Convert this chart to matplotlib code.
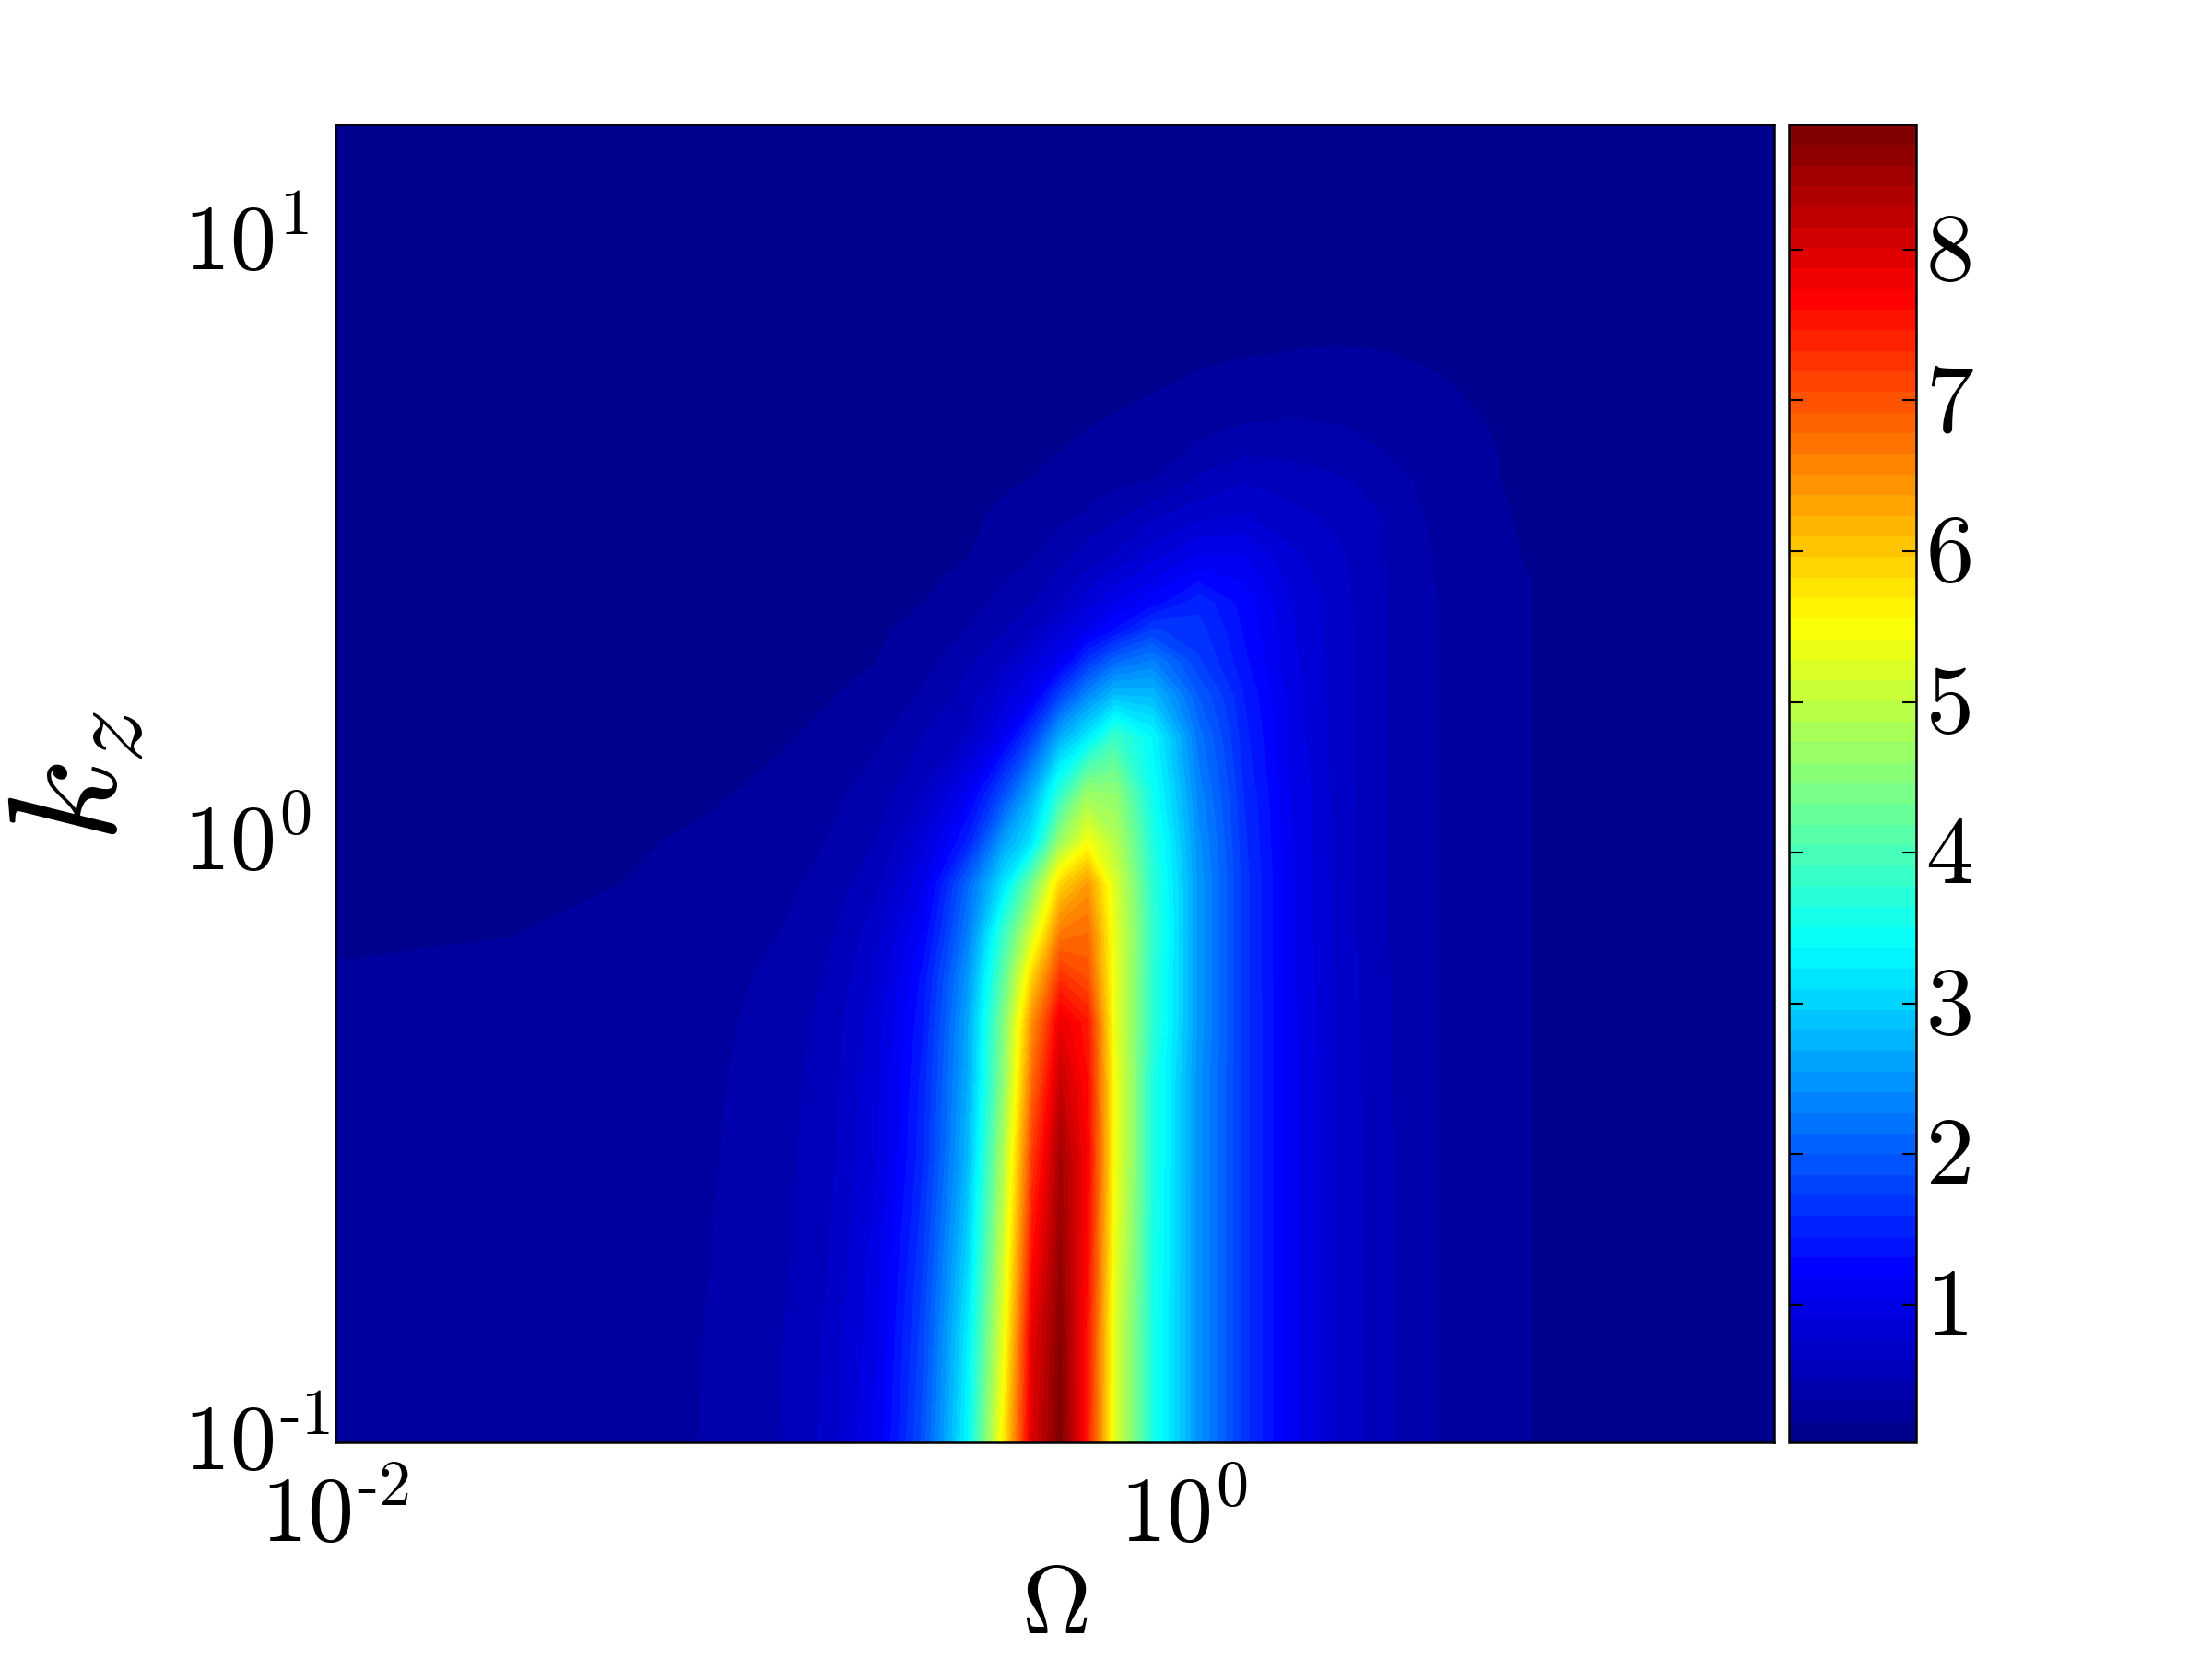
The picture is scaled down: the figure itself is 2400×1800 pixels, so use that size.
import numpy as np
import matplotlib
matplotlib.use('Agg')
import matplotlib.pyplot as plt
from matplotlib.colors import LinearSegmentedColormap
from matplotlib.transforms import ScaledTranslation

plt.rcParams['mathtext.fontset'] = 'cm'
plt.rcParams['font.family'] = 'DejaVu Serif'

omega = [0.0100, 0.0254, 0.0462, 0.0726, 0.114, 0.146, 0.188, 0.242, 0.310, 0.378, 0.440, 0.512,
         0.594, 0.690, 0.843, 1.084, 1.39, 1.79, 2.30, 2.95, 3.98, 6.25, 13.2, 24.7]
kz = [0.1, 0.15, 0.2, 0.3, 0.4, 0.5, 0.6, 0.7, 0.85, 1.0, 1.2, 1.5, 1.75, 2.0, 2.25, 2.5, 2.75, 3.0, 3.5, 4.0, 4.5,
      5.0, 5.7, 6.5, 8.0, 10.0, 15.7]

# values, one row per kz, one column per omega
row_010 = [.28, .30, .33, .364, .51, .69, 1.08, 1.90, 3.37, 5.75, 8.00, 8.80, 7.45, 5.20, 3.60, 2.45, 1.65, 1.10, .75, .53, .36, .23, .16, .13]
row_015 = [.28, .30, .33, .36, .50, .67, 1.02, 1.80, 3.25, 5.40, 7.90, 8.70, 7.50, 5.20, 3.60, 2.45, 1.65, 1.10, .75, .53, .36, .23, .16, .13]
row_020 = [.27, .29, .32, .35, .48, .64, .98, 1.70, 3.05, 5.20, 7.60, 8.60, 7.60, 5.30, 3.62, 2.45, 1.65, 1.10, .75, .53, .36, .23, .16, .13]
row_030 = [.27, .29, .31, .34, .46, .60, .90, 1.55, 2.80, 4.90, 7.20, 8.45, 7.70, 5.40, 3.65, 2.45, 1.65, 1.10, .75, .53, .36, .23, .16, .13]
row_040 = [.26, .28, .30, .33, .45, .58, .87, 1.50, 2.70, 4.60, 6.80, 8.15, 7.60, 5.40, 3.65, 2.45, 1.65, 1.10, .75, .52, .36, .23, .16, .13]
row_050 = [.25, .27, .29, .32, .43, .56, .84, 1.42, 2.65, 4.50, 6.50, 7.85, 7.50, 5.30, 3.75, 2.50, 1.65, 1.10, .74, .52, .36, .23, .16, .13]
row_060 = [.235, .245, .28, .31, .40, .52, .78, 1.35, 2.50, 4.20, 5.90, 7.25, 7.00, 5.30, 3.75, 2.50, 1.65, 1.08, .73, .52, .36, .23, .16, .13]
row_070 = [.21, .225, .26, .29, .37, .48, .72, 1.20, 2.30, 3.90, 5.20, 6.70, 6.80, 5.30, 3.80, 2.50, 1.65, 1.08, .72, .51, .36, .23, .16, .13]
row_085 = [.18, .20, .225, .26, .33, .42, .60, 1.02, 2.10, 3.20, 4.40, 5.90, 6.40, 5.20, 3.75, 2.50, 1.65, 1.08, .72, .51, .36, .23, .16, .13]
row_100 = [.17, .19, .215, .24, .30, .37, .50, .85, 1.50, 2.60, 3.20, 4.70, 5.45, 4.90, 3.65, 2.45, 1.62, 1.06, .72, .51, .36, .23, .16, .13]
row_120 = [.16, .175, .19, .21, .26, .33, .43, .65, 1.12, 1.90, 2.70, 3.80, 4.70, 4.60, 3.50, 2.35, 1.58, 1.05, .71, .51, .36, .23, .16, .13]
row_150 = [.14, .155, .17, .19, .215, .26, .33, .50, .65, 1.10, 1.75, 2.68, 3.20, 3.85, 3.35, 2.20, 1.50, 1.00, .70, .51, .36, .23, .16, .13]
row_175 = [.13, .14, .155, .17, .19, .22, .28, .38, .56, .85, 1.10, 1.80, 2.40, 2.85, 2.80, 2.00, 1.45, .98, .70, .51, .36, .23, .16, .13]
row_200 = [.125, .135, .145, .155, .17, .195, .225, .31, .47, .63, .87, 1.10, 1.66, 2.10, 2.30, 1.75, 1.35, .95, .70, .51, .36, .23, .16, .13]
row_225 = [.12, .13, .14, .145, .16, .18, .21, .27, .37, .50, .62, .85, 1.07, 1.35, 1.75, 1.65, 1.30, .93, .70, .51, .36, .23, .16, .13]
row_250 = [.115, .12, .13, .14, .15, .17, .19, .225, .31, .41, .50, .64, .85, 1.05, 1.25, 1.55, 1.25, .91, .69, .51, .36, .23, .16, .13]
row_275 = [.11, .118, .125, .135, .145, .16, .18, .205, .26, .35, .43, .54, .68, .85, 1.03, 1.28, 1.15, .85, .68, .51, .35, .23, .16, .13]
row_300 = [.11, .115, .12, .13, .14, .155, .17, .19, .225, .31, .35, .45, .56, .65, .85, 1.05, 1.05, .80, .66, .505, .34, .225, .155, .13]
row_350 = [.105, .11, .115, .125, .135, .145, .16, .175, .205, .25, .29, .33, .38, .47, .60, .72, .78, .68, .60, .50, .31, .215, .15, .125]
row_400 = [.10, .105, .11, .115, .125, .135, .15, .165, .19, .21, .23, .27, .30, .33, .364, .52, .62, .57, .52, .45, .28, .205, .15, .12]
row_450 = [.10, .10, .10, .105, .11, .12, .125, .14, .16, .18, .20, .225, .25, .27, .31, .38, .47, .46, .43, .364, .29, .195, .145, .12]
row_500 = [.10, .10, .10, .10, .105, .11, .115, .125, .14, .16, .175, .20, .22, .235, .26, .33, .36, .37, .36, .33, .27, .185, .14, .115]
row_570 = [.10, .10, .10, .10, .10, .105, .11, .115, .125, .14, .15, .16, .175, .20, .22, .25, .275, .29, .29, .285, .24, .17, .13, .11]
row_650 = [.10, .10, .10, .10, .10, .10, .10, .11, .115, .125, .13, .14, .15, .16, .18, .205, .22, .23, .235, .23, .21, .15, .125, .11]
row_800 = [.10, .10, .10, .10, .10, .10, .10, .10, .10, .105, .11, .115, .12, .125, .135, .15, .16, .17, .175, .17, .16, .135, .115, .105]
row_1000 = [.10, .10, .10, .10, .10, .10, .10, .10, .10, .10, .10, .10, .105, .11, .115, .12, .125, .13, .13, .13, .125, .115, .105, .10]
row_1570 = [.10] * 24

z = np.array([row_010, row_015, row_020, row_030, row_040, row_050, row_060, row_070, row_085, row_100, row_120,
              row_150, row_175, row_200, row_225, row_250, row_275, row_300, row_350, row_400, row_450, row_500,
              row_570, row_650, row_800, row_1000, row_1570])

# matlab style jet, 64 steps
jet64 = LinearSegmentedColormap.from_list('jet64', [(0, (0, 0, 0.5625)), (0.125, (0, 0, 1)), (0.375, (0, 1, 1)),
                                                    (0.625, (1, 1, 0)), (0.875, (1, 0, 0)), (1, (0.5, 0, 0))], N=64)
levels = np.linspace(0.09, 8.83, 65)

fig = plt.figure(figsize=(8, 6), dpi=300)
ax = fig.add_axes([364 / 2400, 235 / 1800, 1561 / 2400, 1430 / 1800])
cax = fig.add_axes([1941 / 2400, 235 / 1800, 138 / 2400, 1430 / 1800])

cs = ax.contourf(omega, kz, z, levels=levels, cmap=jet64)
ax.set_xscale('log')
ax.set_yscale('log')
ax.set_xlim(0.01, 24.7)
ax.set_ylim(0.1, 15.7)
ax.set_xticks([0.01, 1])
ax.set_xticklabels([r'$10^{\text{-}2}$', '$10^{0}$'], fontsize=24)
ax.set_yticks([0.1, 1, 10])
ax.set_yticklabels([r'$10^{\text{-}1}$', '$10^{0}$', '$10^{1}$'], fontsize=24, ha='left')
ax.minorticks_off()
ax.tick_params(axis='x', length=0, pad=8)
ax.tick_params(axis='y', length=0, pad=39.5)
ax.set_xlabel(r'$\Omega$', fontsize=25)
ax.xaxis.set_label_coords(0.5, -0.089)
ax.set_ylabel(r'$k_z$', fontsize=40)
ax.yaxis.set_label_coords(-0.13, 0.505)

# digits sit centred on the tick, the exponent sticks out above
up = ScaledTranslation(0, 7 / 300, fig.dpi_scale_trans)
for lab in ax.get_yticklabels():
    lab.set_transform(lab.get_transform() + up)

cb = fig.colorbar(cs, cax=cax)
cb.set_ticks(range(1, 9))
cb.set_ticklabels(['$%d$' % t for t in range(1, 9)], fontsize=25)
cb.ax.tick_params(direction='in', left=True, right=True, length=3.5, width=0.5, pad=2.5)
cb.ax.minorticks_off()
for lab in cb.ax.get_yticklabels():
    lab.set_transform(lab.get_transform() + up)

for sp in list(ax.spines.values()) + list(cb.ax.spines.values()):
    sp.set_linewidth(0.6)
cb.outline.set_linewidth(0.6)

fig.savefig('out.png', dpi=300)
